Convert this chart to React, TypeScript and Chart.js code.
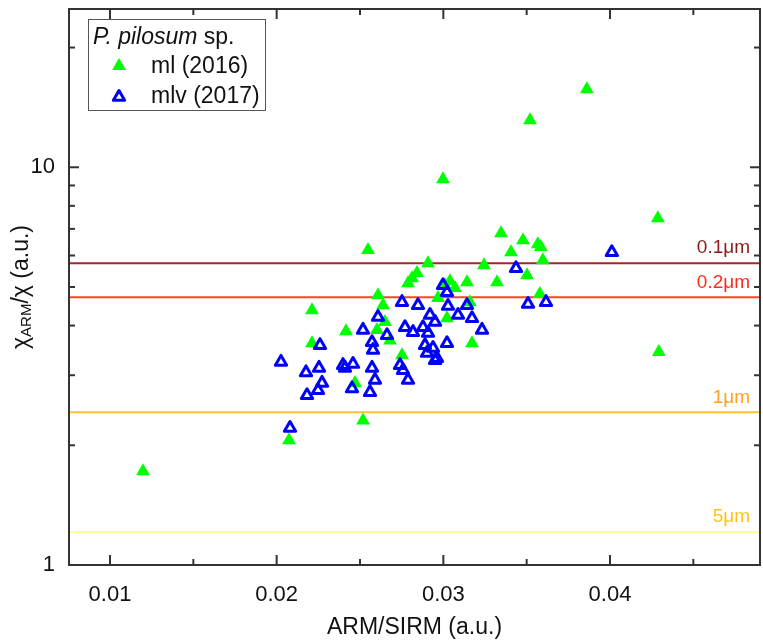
import React, { useEffect, useRef } from 'react';
import { Chart, registerables } from 'chart.js';

Chart.register(...registerables);

// ---- data ----
const ML_X = [0.01198, 0.02074, 0.02518, 0.02212, 0.02212, 0.02416, 0.0247, 0.02548, 0.02608, 0.02638, 0.0265, 0.02602, 0.0268, 0.02752, 0.02788, 0.02812, 0.02842, 0.02908, 0.02968, 0.02998, 0.0301, 0.0304, 0.0307, 0.03142, 0.0316, 0.03172, 0.03022, 0.03244, 0.03322, 0.03346, 0.03406, 0.03478, 0.03502, 0.0352, 0.03567, 0.03585, 0.03597, 0.03579, 0.03861, 0.04287, 0.04293];
const ML_Y = [1.72, 2.06, 2.31, 4.37, 3.61, 3.87, 2.87, 6.19, 4.77, 4.5, 4.08, 3.9, 3.67, 3.37, 5.11, 5.26, 5.42, 5.74, 4.69, 9.33, 5.05, 5.17, 4.97, 5.14, 4.58, 3.61, 4.17, 5.67, 5.14, 6.83, 6.11, 6.55, 5.35, 13.13, 6.4, 6.3, 5.84, 4.8, 15.7, 7.44, 3.43];

const MLV_X = [0.02026, 0.0226, 0.02176, 0.02254, 0.02182, 0.02248, 0.02272, 0.0208, 0.02398, 0.02458, 0.0241, 0.02452, 0.02752, 0.02848, 0.02608, 0.02518, 0.0277, 0.02662, 0.02818, 0.02878, 0.0292, 0.0295, 0.02908, 0.02572, 0.02578, 0.0289, 0.02902, 0.02938, 0.0295, 0.02572, 0.0274, 0.02758, 0.0259, 0.02788, 0.0256, 0.03436, 0.02998, 0.03022, 0.03028, 0.03142, 0.03088, 0.03172, 0.03232, 0.03022, 0.02962, 0.03508, 0.03616, 0.04011];
const MLV_Y = [3.24, 3.57, 3.05, 3.13, 2.67, 2.75, 2.87, 2.21, 3.18, 3.2, 3.13, 2.78, 4.58, 4.5, 4.2, 3.9, 3.96, 3.78, 3.85, 3.96, 4.25, 4.08, 3.83, 3.63, 3.47, 3.57, 3.41, 3.51, 3.27, 3.13, 3.18, 3.09, 2.92, 2.92, 2.72, 5.57, 5.05, 4.85, 4.48, 4.5, 4.25, 4.17, 3.9, 3.61, 3.31, 4.53, 4.58, 6.11];

const X_MIN = 0.00754;
const X_MAX = 0.049;
const Y_MIN = 1;
const Y_MAX = 25;
const X_TICKS = [0.01, 0.02, 0.03, 0.04];
const X_MINOR = [0.015, 0.025, 0.035, 0.045];
const Y_TICKS = [1, 10];
const Y_MINOR = [2, 3, 4, 5, 6, 7, 8, 9, 20];

const REF_LABELS = ['0.1\u03BCm', '0.2\u03BCm', '1\u03BCm', '5\u03BCm'];
const REF_VALUES = [5.74, 4.71, 2.42, 1.21];

const SERIES_LABELS = ['ml (2016)', 'mlv (2017)'];

// ---- styles ----
const REF_LINE_COLORS = ['#A0282A', '#FF4422', '#FFC030', '#FFFF99'];
const REF_TEXT_COLORS = ['#8B1A1A', '#FF2A1A', '#FFA020', '#FFC21A'];
const GREEN = '#00FF00';
const BLUE = '#0000FF';
const FONT = '"Liberation Sans", Arial, sans-serif';

function triPath(ctx: CanvasRenderingContext2D, x: number, y: number, r: number) {
  ctx.beginPath();
  for (let i = 0; i < 3; i++) {
    const a = (i * 2 * Math.PI) / 3;
    const px = x + Math.sin(a) * r;
    const py = y - Math.cos(a) * r;
    if (i === 0) ctx.moveTo(px, py);
    else ctx.lineTo(px, py);
  }
  ctx.closePath();
}

const zeroPad = (s: any) => {
  s.paddingTop = 0;
  s.paddingBottom = 0;
  s.paddingLeft = 0;
  s.paddingRight = 0;
};

const decorPlugin = {
  id: 'decor',
  beforeDatasetsDraw(chart: any) {
    chart.ctx.lineJoin = 'round';
  },
  afterDraw(chart: any) {
    const { ctx, chartArea: a, scales } = chart;
    const xs = scales.x;
    const ys = scales.y;
    ctx.save();
    ctx.lineJoin = 'miter';
    ctx.strokeStyle = '#333333';
    ctx.lineWidth = 2;
    ctx.strokeRect(a.left, a.top, a.right - a.left, a.bottom - a.top);
    const seg = (x1: number, y1: number, x2: number, y2: number) => {
      ctx.beginPath();
      ctx.moveTo(x1, y1);
      ctx.lineTo(x2, y2);
      ctx.stroke();
    };
    X_TICKS.forEach((v) => {
      const p = xs.getPixelForValue(v);
      seg(p, a.bottom, p, a.bottom - 10);
      seg(p, a.top, p, a.top + 10);
    });
    X_MINOR.forEach((v) => {
      const p = xs.getPixelForValue(v);
      seg(p, a.bottom, p, a.bottom - 6);
      seg(p, a.top, p, a.top + 6);
    });
    Y_TICKS.forEach((v) => {
      const p = ys.getPixelForValue(v);
      seg(a.left, p, a.left + 10, p);
      seg(a.right, p, a.right - 10, p);
    });
    Y_MINOR.forEach((v) => {
      const p = ys.getPixelForValue(v);
      seg(a.left, p, a.left + 6, p);
      seg(a.right, p, a.right - 6, p);
    });

    // reference line labels
    ctx.font = `19px ${FONT}`;
    ctx.textAlign = 'right';
    ctx.textBaseline = 'middle';
    REF_VALUES.forEach((v, i) => {
      const p = ys.getPixelForValue(v);
      ctx.fillStyle = REF_TEXT_COLORS[i];
      ctx.fillText(REF_LABELS[i], a.right - 10, p - 15);
    });

    // x title
    ctx.fillStyle = '#111111';
    ctx.textAlign = 'center';
    ctx.font = `23px ${FONT}`;
    ctx.fillText('ARM/SIRM (a.u.)', (a.left + a.right) / 2, 628);

    // y title with subscript
    ctx.save();
    ctx.translate(22, (a.top + a.bottom) / 2);
    ctx.rotate(-Math.PI / 2);
    const parts = [
      { t: '\u03C7', f: `23px ${FONT}`, dy: 0 },
      { t: 'ARM', f: `15px ${FONT}`, dy: 5 },
      { t: '/\u03C7 (a.u.)', f: `23px ${FONT}`, dy: 0 },
    ];
    let total = 0;
    parts.forEach((p) => {
      ctx.font = p.f;
      total += ctx.measureText(p.t).width;
    });
    let cx = -total / 2;
    ctx.textAlign = 'left';
    ctx.textBaseline = 'middle';
    parts.forEach((p) => {
      ctx.font = p.f;
      ctx.fillText(p.t, cx, p.dy);
      cx += ctx.measureText(p.t).width;
    });
    ctx.restore();

    // legend
    ctx.lineWidth = 1;
    ctx.strokeStyle = '#555555';
    ctx.fillStyle = '#ffffff';
    ctx.fillRect(88.5, 19.5, 177, 91);
    ctx.strokeRect(88.5, 19.5, 177, 91);
    ctx.fillStyle = '#111111';
    ctx.textAlign = 'left';
    ctx.textBaseline = 'middle';
    ctx.font = `italic 23px ${FONT}`;
    const t1 = 'P. pilosum';
    ctx.fillText(t1, 93, 38);
    const w1 = ctx.measureText(t1).width;
    ctx.font = `23px ${FONT}`;
    ctx.fillText(' sp.', 93 + w1, 38);
    ctx.fillText(SERIES_LABELS[0], 151, 67);
    ctx.fillText(SERIES_LABELS[1], 151, 97);
    ctx.fillStyle = GREEN;
    triPath(ctx, 119, 66, 8);
    ctx.fill();
    ctx.lineJoin = 'round';
    ctx.strokeStyle = BLUE;
    ctx.lineWidth = 3;
    triPath(ctx, 119, 97, 6.5);
    ctx.stroke();
    ctx.restore();
  },
};

export default function App() {
  const ref = useRef<HTMLCanvasElement | null>(null);
  useEffect(() => {
    if (!ref.current) return;
    const refSets = REF_VALUES.map((v, i) => ({
      label: REF_LABELS[i],
      data: [
        { x: X_MIN, y: v },
        { x: X_MAX, y: v },
      ],
      showLine: true,
      borderColor: REF_LINE_COLORS[i],
      backgroundColor: REF_LINE_COLORS[i],
      borderWidth: 2,
      pointRadius: 0,
      order: 2,
    }));
    const chart = new Chart(ref.current, {
      type: 'scatter',
      data: {
        datasets: [
          {
            label: SERIES_LABELS[1],
            data: MLV_X.map((x, i) => ({ x, y: MLV_Y[i] })),
            pointStyle: 'triangle',
            pointRadius: 6.5,
            borderWidth: 3,
            borderColor: BLUE,
            backgroundColor: 'rgba(0,0,0,0)',
            order: 0,
          },
          {
            label: SERIES_LABELS[0],
            data: ML_X.map((x, i) => ({ x, y: ML_Y[i] })),
            pointStyle: 'triangle',
            pointRadius: 8,
            borderWidth: 0,
            borderColor: GREEN,
            backgroundColor: GREEN,
            order: 1,
          },
          ...refSets,
        ] as any,
      },
      options: {
        responsive: false,
        animation: false,
        devicePixelRatio: 1,
        layout: { autoPadding: false, padding: { top: 9, right: 3, left: 0, bottom: 0 } },
        plugins: { legend: { display: false }, tooltip: { enabled: false } },
        scales: {
          x: {
            type: 'linear',
            min: X_MIN,
            max: X_MAX,
            grid: { display: false, drawTicks: false },
            border: { display: false },
            afterBuildTicks: (s: any) => {
              s.ticks = X_TICKS.map((v) => ({ value: v }));
            },
            afterFit: (s: any) => {
              s.height = 77;
              zeroPad(s);
            },
            ticks: {
              padding: 17,
              maxRotation: 0,
              autoSkip: false,
              color: '#111111',
              font: { family: FONT, size: 22 },
              callback: (v: any) => Number(v).toFixed(2),
            },
          },
          y: {
            type: 'logarithmic',
            min: Y_MIN,
            max: Y_MAX,
            grid: { display: false, drawTicks: false },
            border: { display: false },
            afterBuildTicks: (s: any) => {
              s.ticks = Y_TICKS.map((v) => ({ value: v }));
            },
            afterFit: (s: any) => {
              s.width = 69;
              zeroPad(s);
            },
            ticks: {
              padding: 14,
              autoSkip: false,
              color: '#111111',
              font: { family: FONT, size: 22 },
              callback: (v: any) => String(v),
            },
          },
        },
      } as any,
      plugins: [decorPlugin],
    });
    return () => chart.destroy();
  }, []);
  return (
    <div style={{ position: 'absolute', left: 0, top: 0, width: 763, height: 642, background: '#fff' }}>
      <canvas ref={ref} width={763} height={642} style={{ display: 'block' }} />
    </div>
  );
}
